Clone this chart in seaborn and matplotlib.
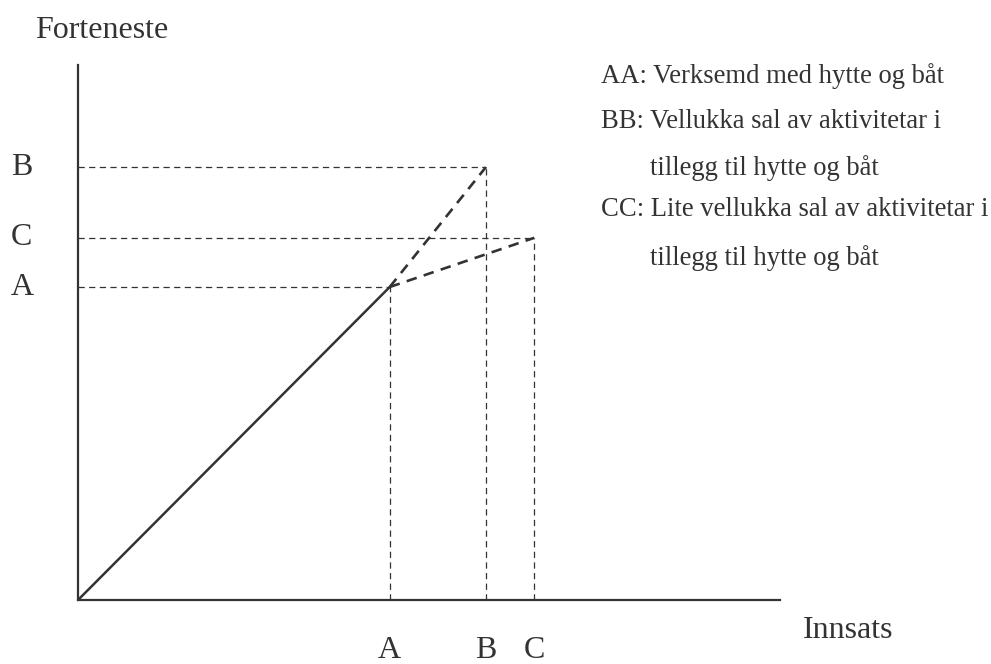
import matplotlib
matplotlib.use("Agg")
import matplotlib.pyplot as plt
import matplotlib.transforms as mtrans
import seaborn as sns
import pandas as pd

sns.set_style("white")
plt.rcParams['font.family'] = ['Liberation Serif', 'DejaVu Serif']

# Data (relative units)
labels = ["A", "B", "C"]
innsats = [44.4, 58.1, 65.0]
forteneste = [58.5, 80.9, 67.7]
legend_lines = [
    ("AA: Verksemd med hytte og båt", False),
    ("BB: Vellukka sal av aktivitetar i", False),
    ("tillegg til hytte og båt", True),
    ("CC: Lite vellukka sal av aktivitetar i", False),
    ("tillegg til hytte og båt", True),
]

col = "#333333"

fig = plt.figure(figsize=(9.91, 6.64), dpi=100)
ax = fig.add_axes([78 / 991, 64 / 664, 702 / 991, 535 / 664])
ax.set_xlim(0, 100)
ax.set_ylim(0, 100)

def seg(x0, y0, x1, y1, **kw):
    d = pd.DataFrame({"x": [x0, x1], "y": [y0, y1]})
    sns.lineplot(data=d, x="x", y="y", ax=ax, color=col, sort=False,
                 estimator=None, errorbar=None, **kw)

# solid line origin -> A
seg(0, 0, innsats[0], forteneste[0], lw=1.8)

# dashed lines A -> B and A -> C
for i in (1, 2):
    seg(innsats[0], forteneste[0], innsats[i], forteneste[i], lw=1.9,
        linestyle=(0, (4, 2.8)))

# thin guide lines
for xv, yv in zip(innsats, forteneste):
    seg(0, yv, xv, yv, lw=0.9, linestyle=(0, (5, 3.5)))
    seg(xv, 0, xv, yv, lw=0.9, linestyle=(0, (5, 3.5)))

# axes styling
for s in ("top", "right"):
    ax.spines[s].set_visible(False)
for s in ("left", "bottom"):
    ax.spines[s].set_color(col)
    ax.spines[s].set_linewidth(1.6)
ax.set_xlabel("")
ax.set_ylabel("")
ax.set_xticks([])
ax.set_yticks([])

# letter labels on the axes
tx = mtrans.blended_transform_factory(ax.transData, fig.transFigure)
ty = mtrans.blended_transform_factory(fig.transFigure, ax.transData)
for lab, xv, yv in zip(labels, innsats, forteneste):
    ax.text(xv, 1 - 651 / 664, lab, transform=tx, fontsize=23, color=col,
            ha="center", va="center", clip_on=False)
    ax.text(11 / 991, yv, lab, transform=ty, fontsize=23, color=col,
            ha="left", va="center", clip_on=False)

# axis titles
fig.text(35 / 991, 1 - 30 / 664, "Forteneste", fontsize=23, color=col,
         ha="left", va="center")
fig.text(803 / 991, 1 - 630 / 664, "Innsats", fontsize=23, color=col,
         ha="left", va="center")

# legend text
ys = [76, 121, 168, 210, 258]
for (txt, indent), yp in zip(legend_lines, ys):
    xp = 650 if indent else 601
    fig.text(xp / 991, 1 - yp / 664, txt, fontsize=19.2, color=col,
             ha="left", va="center")

fig.savefig("out.png", dpi=100)
